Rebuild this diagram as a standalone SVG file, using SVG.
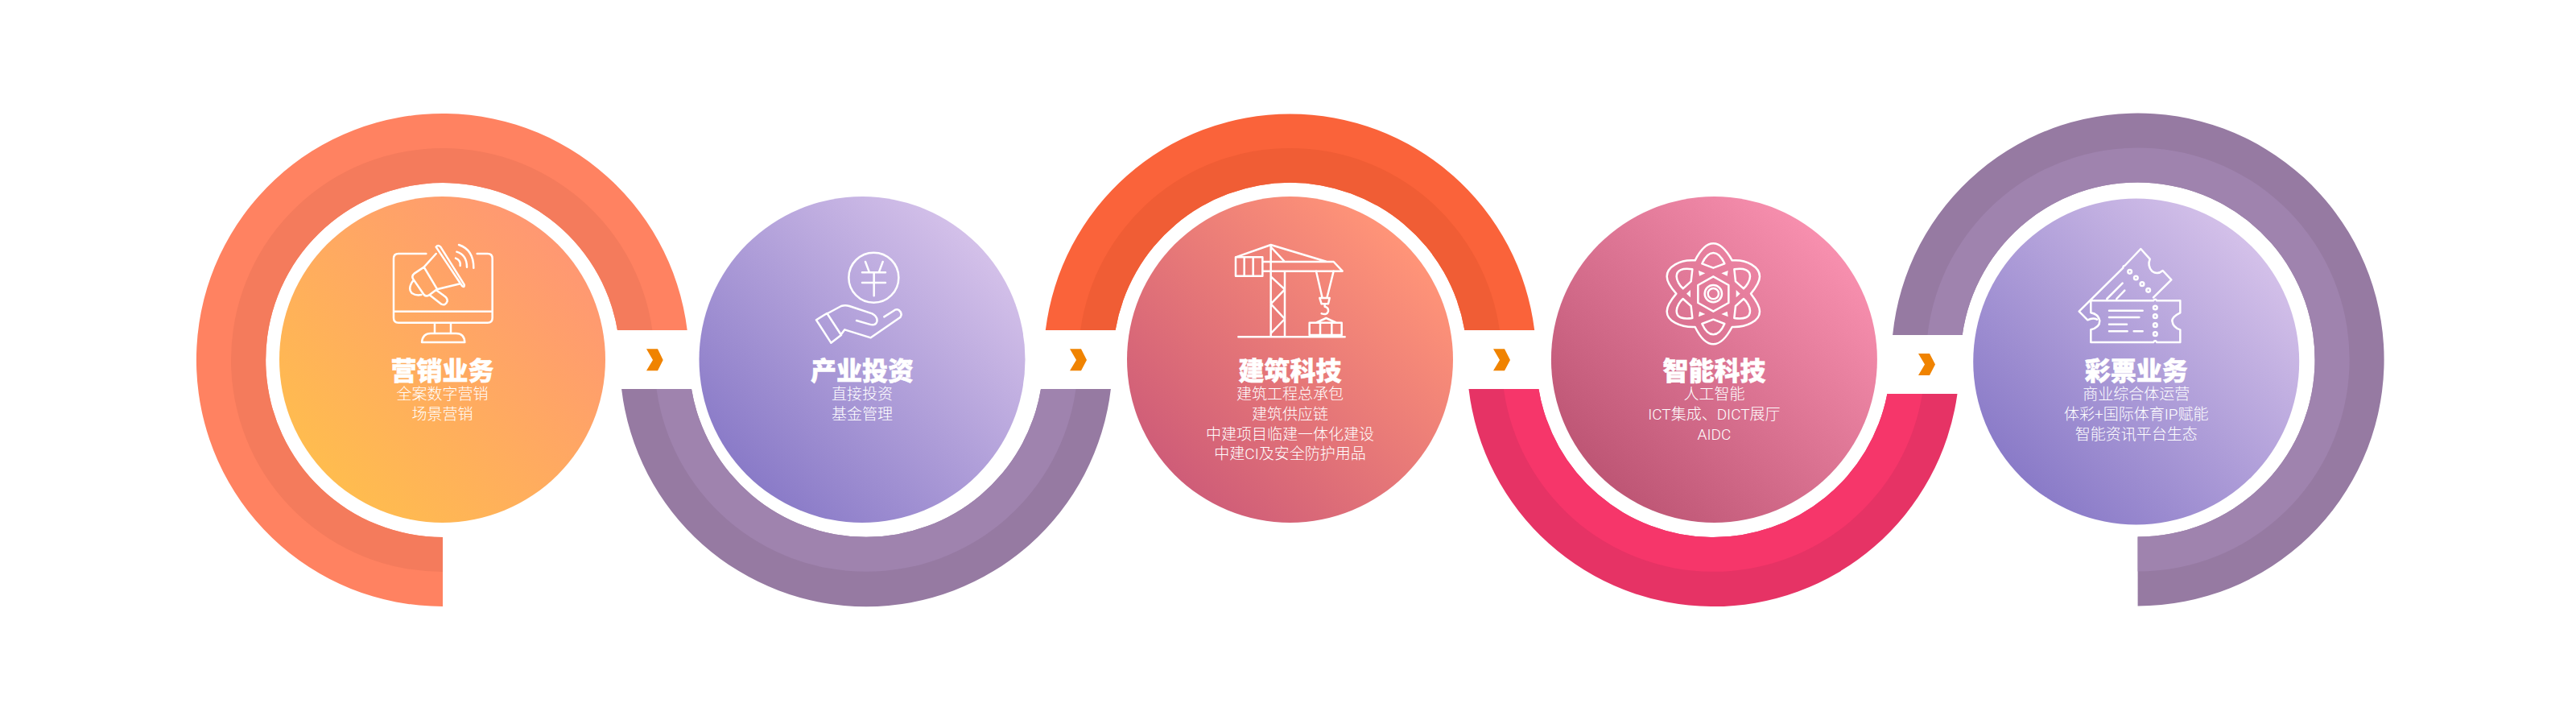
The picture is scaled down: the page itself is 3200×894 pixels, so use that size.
<svg xmlns="http://www.w3.org/2000/svg" width="3200" height="894" viewBox="0 0 3200 894">
<style>
.t{font-family:"Liberation Sans","Noto Sans CJK SC",sans-serif;font-size:32px;font-weight:900;fill:#fff;stroke:#fff;stroke-width:.5;text-anchor:middle}
.s{font-family:Roboto,"Noto Sans CJK SC",sans-serif;font-size:19px;font-weight:300;fill:#fff;text-anchor:middle}
.i{fill:none;stroke:#fff;stroke-width:7.5;stroke-linecap:round;stroke-linejoin:round}
.w{fill:#fff}
.chev{fill:#f08300}
</style>
<defs>
<linearGradient id="g1" x1="0.15" y1="0.85" x2="0.85" y2="0.15"><stop offset="0" stop-color="#ffbc4f"/><stop offset="1" stop-color="#ff9872"/></linearGradient>
<linearGradient id="g2" x1="0.15" y1="0.85" x2="0.85" y2="0.15"><stop offset="0" stop-color="#8a7bc8"/><stop offset="1" stop-color="#d3c0e9"/></linearGradient>
<linearGradient id="g3" x1="0.15" y1="0.85" x2="0.85" y2="0.15"><stop offset="0" stop-color="#cf5d78"/><stop offset="1" stop-color="#ff9478"/></linearGradient>
<linearGradient id="g4" x1="0.15" y1="0.85" x2="0.85" y2="0.15"><stop offset="0" stop-color="#be5675"/><stop offset="1" stop-color="#f78fae"/></linearGradient>
</defs>
<rect width="3200" height="894" fill="#fff"/>

<g id="node-marketing">
<path fill="#ff8261" d="M550 753A306 306 0 1 1 853.7 410L767 410A220 220 0 1 0 550 667Z"/>
<path fill="#f47b5c" d="M550 710A263 263 0 1 1 810.4 410L767 410A220 220 0 1 0 550 667Z"/>
<circle cx="549.5" cy="446.5" r="202.5" fill="url(#g1)"/>
<g class="i" transform="translate(470 290) scale(.33333)">
<path d="M178 75H75Q57 75 57 93V314Q57 332 75 332H407Q425 332 425 314V93Q425 75 407 75H368M57 290H425M210 335V372M270 335V372M162 405H322Q320 372 290 372H195Q165 372 162 405Z"/>
<path d="M215 50L312 195Q322 203 320 190L232 50Q222 40 215 50ZM215 75L170 125L135 148Q122 158 130 170L170 228Q178 236 188 230L218 208L305 187M170 125L218 205M130 175Q108 205 125 222Q140 232 160 228M190 228L235 263Q250 270 257 252Q258 240 245 232L215 210"/>
<path d="M300 42Q355 60 355 128M292 68Q330 80 330 125M288 92Q308 100 305 120"/>
</g>
<text class="t" x="549.5" y="471.5">营销业务</text>
<text class="s" x="549.5" y="496">全案数字营销</text>
<text class="s" x="549.5" y="521">场景营销</text>
</g>

<g id="node-investment">
<path fill="#967aa2" d="M772.1 483A306 306 0 0 0 1379.9 483L1293 483A220 220 0 0 1 859 483Z"/>
<path fill="#9f83ae" d="M815.5 483A263 263 0 0 0 1336.5 483L1293 483A220 220 0 0 1 859 483Z"/>
<circle cx="1071" cy="446.5" r="202.5" fill="url(#g2)"/>
<g class="i" transform="translate(1000 290) scale(.33333)">
<circle cx="256" cy="164" r="93"/>
<path d="M225 105L240 145M290 105L275 145M213 145H300M213 183H300M257 145V232"/>
<path d="M42 322L82 297L135 378L97 407ZM85 297L135 270Q150 265 165 270L250 298Q272 310 268 328Q262 345 240 338L192 324M135 375L148 358L245 388L355 312Q365 298 350 285Q340 280 330 288L295 310"/>
</g>
<text class="t" x="1071" y="471.5">产业投资</text>
<text class="s" x="1071" y="496">直接投资</text>
<text class="s" x="1071" y="521">基金管理</text>
</g>

<g id="node-construction">
<path fill="#fa633a" d="M1298.8 410A306 306 0 0 1 1906.2 410L1819.4 410A220 220 0 0 0 1385.6 410Z"/>
<path fill="#f05d35" d="M1342.1 410A263 263 0 0 1 1862.9 410L1819.4 410A220 220 0 0 0 1385.6 410Z"/>
<circle cx="1602.5" cy="446.5" r="202.5" fill="url(#g3)"/>
<g class="i" transform="translate(1500 290) scale(.33333)">
<path d="M115 385H512M236 42V385M288 140V385M105 88L236 42L445 105M236 50L288 105M105 88H205V158H105ZM137 88V158M170 88V158M205 105H470L503 140H205M236 160L288 208L236 262L288 318L236 372"/>
<path d="M405 140L428 240M470 140L445 240M418 240H455L450 262H425ZM437 262V272Q452 275 450 290Q445 305 425 298M380 332H500V378H380ZM420 332V378M463 332V378M405 332L442 315L480 332"/>
</g>
<text class="t" x="1602.5" y="471.5">建筑科技</text>
<text class="s" x="1602.5" y="496">建筑工程总承包</text>
<text class="s" x="1602.5" y="521">建筑供应链</text>
<text class="s" x="1602.5" y="545.5">中建项目临建一体化建设</text>
<text class="s" x="1602.5" y="570">中建CI及安全防护用品</text>
</g>

<g id="node-ai">
<path fill="#e63365" d="M1824.5 483A306 306 0 0 0 2431.5 489L2344.4 489A220 220 0 0 1 1911.4 483Z"/>
<path fill="#f6366a" d="M1867.9 483A263 263 0 0 0 2388 489L2344.4 489A220 220 0 0 1 1911.4 483Z"/>
<circle cx="2129.4" cy="446.5" r="202.5" fill="url(#g4)"/>
<g transform="translate(2060 290) scale(.33333)">
<g class="i">
<path d="M137 100C160 55 185 37 205 37C225 37 250 55 275 100C330 95 378 125 378 160C378 180 365 200 345 224C365 250 378 270 378 290C378 325 330 350 275 348C250 395 225 412 205 412C185 412 160 395 137 348C80 350 32 325 32 290C32 270 45 250 67 224C45 200 32 180 32 160C32 125 80 95 137 100Z"/>
<path d="M163 112C175 85 190 72 205 72C220 72 235 85 247 112L205 128ZM163 336C175 363 190 376 205 376C220 376 235 363 247 336L205 320Z"/>
<path d="M127 133C90 128 68 135 68 160C68 175 80 195 92 205L122 178ZM283 133C320 128 342 135 342 160C342 175 330 195 318 205L288 178ZM127 315C90 320 68 313 68 288C68 273 80 253 92 243L122 270ZM283 315C320 320 342 313 342 288C342 273 330 253 318 243L288 270Z"/>
<path d="M205 160L262 192V258L205 290L148 258V192Z"/>
<circle cx="205" cy="224" r="20"/><circle cx="205" cy="224" r="32"/>
</g>
<path class="w" d="M150 138L175 148L153 158ZM260 138L235 148L257 158ZM120 210L105 224L120 238ZM290 210L305 224L290 238ZM150 310L175 300L153 290ZM260 310L235 300L257 290Z"/>
</g>
<text class="t" x="2129.4" y="471.5">智能科技</text>
<text class="s" x="2129.4" y="496">人工智能</text>
<text class="s" x="2129.4" y="521">ICT集成、DICT展厅</text>
<text class="s" x="2129.4" y="545.5">AIDC</text>
</g>

<g id="node-lottery">
<path fill="#967aa2" d="M2655.6 752.5A306 306 0 1 0 2351.1 416L2437.7 416A220 220 0 1 1 2655.6 666.5Z"/>
<path fill="#9f83ae" d="M2655.6 709.5A263 263 0 1 0 2394.4 416L2437.7 416A220 220 0 1 1 2655.6 666.5Z"/>
<circle cx="2653.7" cy="449" r="202.5" fill="url(#g2)"/>
<g class="i" transform="translate(2560 290) scale(.33333)">
<path d="M112 250H345Q352 240 358 250H445V295Q415 310 415 325Q418 350 445 358V405H358Q352 395 345 405H112V358Q145 350 145 325Q140 300 112 295Z"/>
<path d="M345 238L412 172L380 138Q360 155 340 140Q322 120 332 95L298 57L238 120Q232 120 232 128L68 290L100 322Q120 312 135 320"/>
<path d="M180 287H305M180 312H292M180 338H246M180 364H248M272 364H305M172 243L230 185M208 243L238 212"/>
<circle cx="352" cy="276" r="7"/><circle cx="352" cy="308" r="7"/><circle cx="352" cy="341" r="7"/><circle cx="352" cy="374" r="7"/>
<circle cx="257" cy="142" r="7"/><circle cx="280" cy="165" r="7"/><circle cx="303" cy="188" r="7"/><circle cx="326" cy="211" r="7"/>
</g>
<text class="t" x="2653.7" y="471.5">彩票业务</text>
<text class="s" x="2653.7" y="496">商业综合体运营</text>
<text class="s" x="2653.7" y="521">体彩+国际体育IP赋能</text>
<text class="s" x="2653.7" y="545.5">智能资讯平台生态</text>
</g>

<g id="connectors">
<path class="chev" d="M803 433.3H817L823.7 447L817 460.3H803L811 447Z"/>
<path class="chev" d="M1329 433.3H1343L1350 447L1343 460.3H1329L1337 447Z"/>
<path class="chev" d="M1855 433.3H1869L1876 447L1869 460.3H1855L1863 447Z"/>
<path class="chev" d="M2383 439H2397L2404 452.5L2397 466H2383L2391 452.5Z"/>
</g>
</svg>
